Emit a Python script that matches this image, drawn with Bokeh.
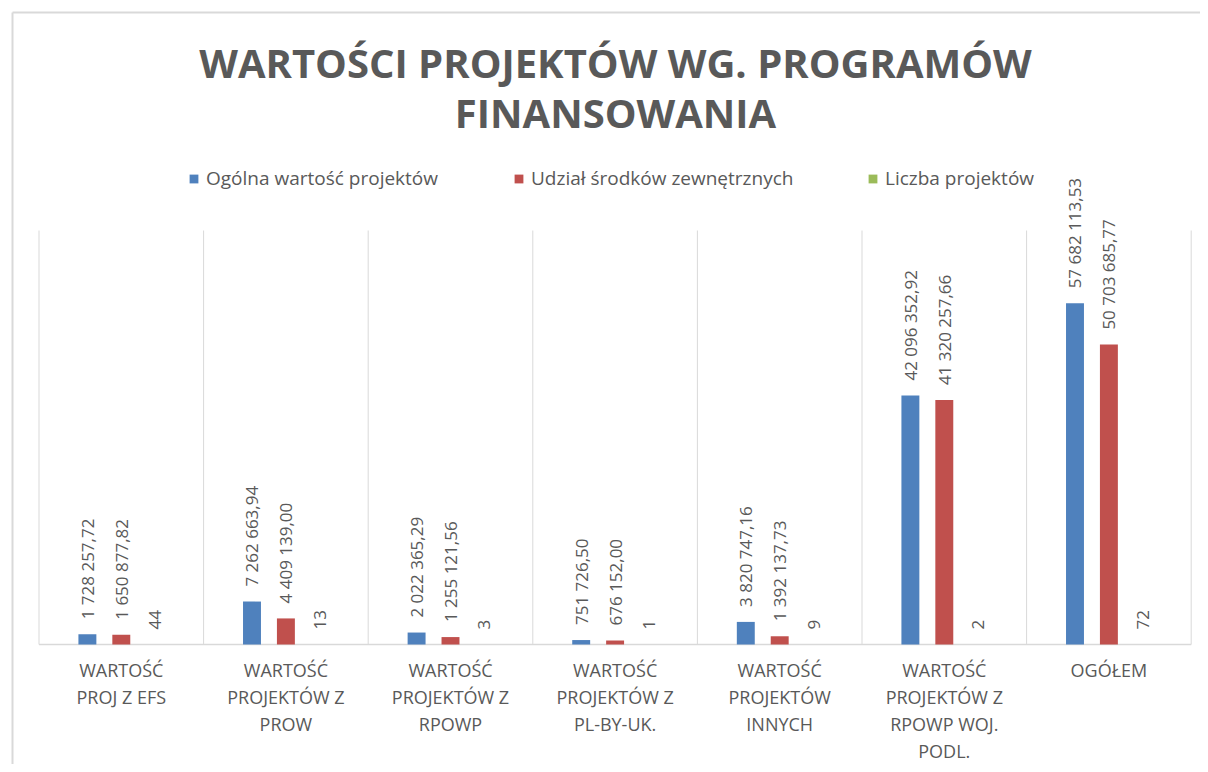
import math
from bokeh.plotting import figure
from bokeh.models import Range1d, ColumnDataSource, Legend, LegendItem
from bokeh.core.properties import value
from bokeh.embed import file_html
from bokeh.resources import INLINE

categories = ["WARTOŚĆ PROJ Z EFS", "WARTOŚĆ PROJEKTÓW Z PROW", "WARTOŚĆ PROJEKTÓW Z RPOWP",
              "WARTOŚĆ PROJEKTÓW Z PL-BY-UK.", "WARTOŚĆ PROJEKTÓW INNYCH",
              "WARTOŚĆ PROJEKTÓW Z RPOWP WOJ. PODL.", "OGÓŁEM"]
tick_labels = ["WARTOŚĆ\nPROJ Z EFS", "WARTOŚĆ\nPROJEKTÓW Z\nPROW", "WARTOŚĆ\nPROJEKTÓW Z\nRPOWP",
               "WARTOŚĆ\nPROJEKTÓW Z\nPL-BY-UK.", "WARTOŚĆ\nPROJEKTÓW\nINNYCH",
               "WARTOŚĆ\nPROJEKTÓW Z\nRPOWP WOJ.\nPODL.", "OGÓŁEM"]
ogolna = [1728257.72, 7262663.94, 2022365.29, 751726.50, 3820747.16, 42096352.92, 57682113.53]
udzial = [1650877.82, 4409139.00, 1255121.56, 676152.00, 1392137.73, 41320257.66, 50703685.77]
liczba = [44, 13, 3, 1, 9, 2, 72]
series_names = ["Ogólna wartość projektów", "Udział środków zewnętrznych", "Liczba projektów"]
title_lines = ["WARTOŚCI PROJEKTÓW WG. PROGRAMÓW", "FINANSOWANIA"]

colors = ["#4F81BD", "#C0504D", "#9BBB59"]
GREY = "#595959"
LINE = "#d9d9d9"
FONT = "Open Sans"

# ---- layout (page pixels -> data units) ----
W, H = 1200, 764
YMAX = 70e6
AX_Y, TOP_Y = 644, 230          # page y of value 0 and of YMAX
CAT_X0, CAT_W = 38.5, 164.6     # page x of first category edge, category width
PX_Y = YMAX / (AX_Y - TOP_Y)


def dy(page_y):
    return (AX_Y - page_y) * PX_Y


def dx(page_x):
    return (page_x - CAT_X0) / CAT_W


def fmt(v):
    return f"{v:,.2f}".replace(",", " ").replace(".", ",")


n = len(categories)
p = figure(x_range=Range1d(dx(0), dx(W)), y_range=Range1d(dy(H), dy(0)),
           width=W, height=H, output_backend="svg", toolbar_location=None,
           min_border=0, min_border_left=0, min_border_right=0, min_border_top=0,
           min_border_bottom=0)
p.outline_line_color = None
p.axis.visible = False
p.grid.visible = False
p.background_fill_color = "white"
p.border_fill_color = "white"

# chart border
p.segment(x0=[dx(12), dx(12)], y0=[dy(12), dy(12)], x1=[dx(12), dx(W + 10)], y1=[dy(H + 10), dy(12)],
          line_color=LINE, line_width=2)

# category separators and axis
edges = list(range(n + 1))
p.segment(x0=edges, y0=[0] * len(edges), x1=edges, y1=[YMAX] * len(edges), line_color=LINE, line_width=1)
p.segment(x0=[0], y0=[0], x1=[n], y1=[0], line_color=LINE, line_width=1.3)

offsets = [-0.206, 0.0, 0.206]
series = [ogolna, udzial, liczba]
renderers = []
for off, vals, c, k in zip(offsets, series, colors, range(3)):
    xs = [i + 0.5 + off for i in range(n)]
    texts = [fmt(v) for v in vals] if k < 2 else [str(v) for v in vals]
    src = ColumnDataSource(dict(x=xs, top=vals, text=texts))
    r = p.vbar(x="x", top="top", width=0.109, source=src, fill_color=c, line_color=None)
    renderers.append(r)
    p.text(x="x", y="top", text="text", source=src, angle=math.pi / 2, text_align="left",
           text_baseline="middle", y_offset=-15, text_font=value(FONT),
           text_font_size="17px", text_color=GREY)

# category labels (wrapped lines)
lx, ly, lt = [], [], []
for i, lab in enumerate(tick_labels):
    for j, line in enumerate(lab.split("\n")):
        lx.append(i + 0.5)
        ly.append(dy(669 + 27.2 * j))
        lt.append(line)
p.text(x=lx, y=ly, text=lt, text_align="center", text_baseline="middle",
       text_font=value(FONT), text_font_size="18px", text_color=GREY)

# title
p.text(x=[dx(615)] * 2, y=[dy(62), dy(112)], text=title_lines, text_align="center",
       text_baseline="middle", text_font=value(FONT), text_font_size="40px",
       text_font_style="bold", text_color=GREY)

# legend (one entry per box, positioned like the reference)
legend_px = [188, 513, 867]
for name, r, lxp in zip(series_names, renderers, legend_px):
    lg = Legend(items=[LegendItem(label=name, renderers=[r])], location=(lxp, H - 191),
                orientation="horizontal", glyph_width=11, glyph_height=11, label_standoff=7,
                label_height=20, label_text_font=FONT, label_text_font_size="19px",
                label_text_color=GREY, label_text_baseline="middle",
                padding=0, margin=0, border_line_color=None, background_fill_alpha=0)
    p.add_layout(lg)

open("out.html", "w").write(file_html(p, INLINE))
